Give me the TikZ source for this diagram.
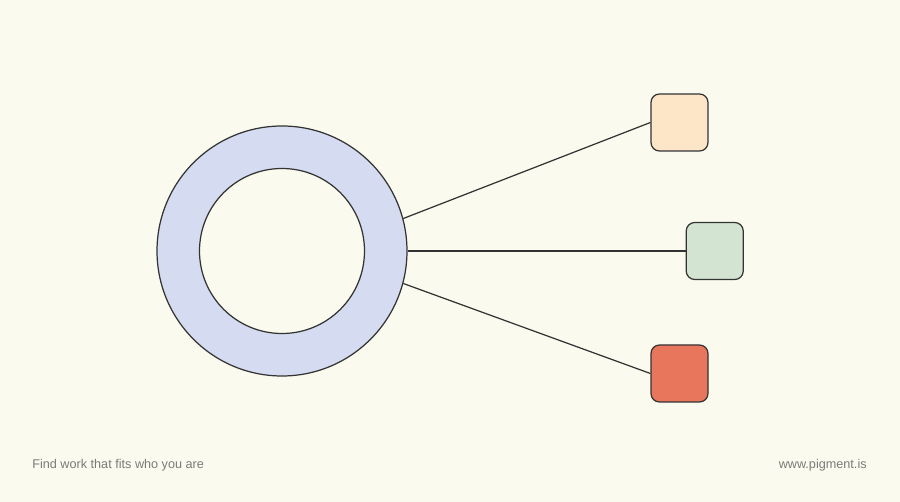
\documentclass[tikz,border=0pt]{standalone}
\usepackage{fontspec}
\setmainfont{Liberation Sans}
\usetikzlibrary{positioning}
\definecolor{paper}{HTML}{FBFAEE}
\definecolor{ringblue}{HTML}{D5DBF0}
\definecolor{peach}{HTML}{FDE5C8}
\definecolor{sage}{HTML}{D3E5D2}
\definecolor{coral}{HTML}{E8765C}
\definecolor{edge}{HTML}{333333}
\definecolor{caption}{HTML}{7A7A7A}

\begin{document}
\begin{tikzpicture}[
    outerring/.style={circle, draw=edge, line width=0.7pt, fill=ringblue, minimum size=5cm, inner sep=0pt},
    innerhole/.style={circle, draw=edge, line width=0.7pt, fill=paper, minimum size=3.3cm, inner sep=0pt},
    tile/.style={rectangle, rounded corners=0.17cm, draw=edge, line width=0.7pt, minimum size=1.14cm, inner sep=0pt},
    link/.style={draw=edge, line width=0.7pt},
    footnote/.style={font=\fontsize{7.2}{8}\selectfont, text=caption, inner sep=0pt}
]
    % page
    \fill[paper] (0,0) rectangle (18,10.04);
    \useasboundingbox (0,0) rectangle (18,10.04);

    % ring
    \node[outerring] (ring) at (5.64,5.02) {};
    \node[innerhole] (hole) at (ring.center) {};

    % tiles
    \node[tile, fill=sage, right=5.56cm of ring] (middle) {};
    \node[tile, fill=peach] (upper) at (13.59,7.59) {};
    \node[tile, fill=coral] (lower) at (13.59,2.57) {};

    % links
    \draw[link] (ring.15) -- (upper.west);
    \draw[link] (ring.east) -- (middle.west);
    \draw[link] (ring.-15) -- (lower.west);

    % footer
    \node[footnote, anchor=west] (tagline) at (0.64,0.74) {Find work that fits who you are};
    \node[footnote, anchor=east] (site) at (17.34,0.74) {www.pigment.is};
\end{tikzpicture}
\end{document}
